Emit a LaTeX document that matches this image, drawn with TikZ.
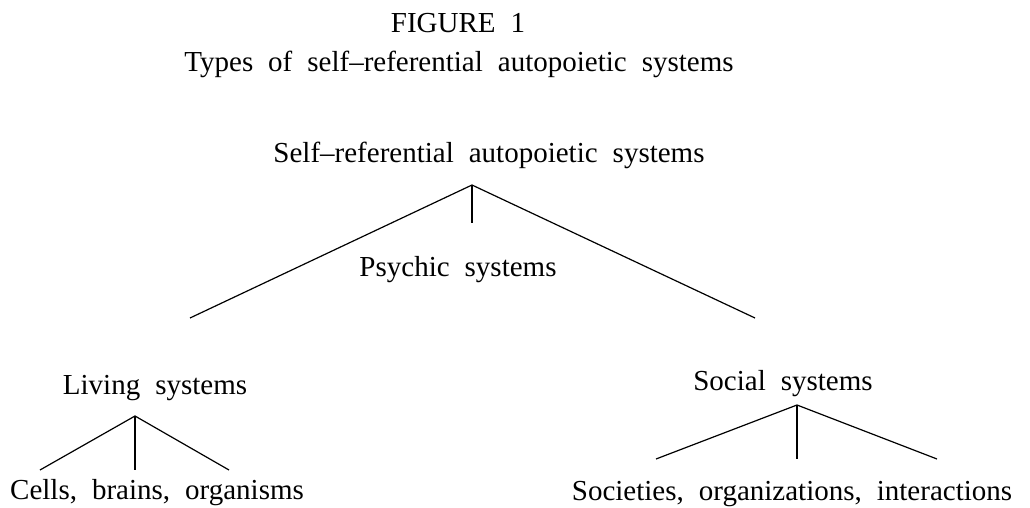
\documentclass[tikz,border=0pt]{standalone}
\usepackage{fontspec}
\setmainfont{Liberation Serif}
\newcommand\lblfont{\fontsize{29}{34}\selectfont\spaceskip=15pt plus 0pt minus 0pt\relax}
\begin{document}
\begin{tikzpicture}[x=1pt,y=-1pt,
  lbl/.style={inner sep=0pt,anchor=base,font=\lblfont},
  edge/.style={line width=1.2pt}]
\useasboundingbox (0,0) rectangle (1030,508);
\node[lbl] (fig) at (458,33) {FIGURE 1};
\node[lbl] (sub) at (459,72) {Types of self–referential autopoietic systems};
\node[lbl] (root) at (489,162) {Self–referential autopoietic systems};
\node[lbl] (psy) at (458,276) {Psychic systems};
\node[lbl] (liv) at (155,394) {Living systems};
\node[lbl] (cells) at (157,499) {Cells, brains, organisms};
\node[lbl] (soc) at (783,390) {Social systems};
\node[lbl] (socs) at (792,500) {Societies, organizations, interactions};
\coordinate (ra) at (472,185);
\coordinate (rl) at (190,318);
\coordinate (rr) at (755,318);
\coordinate (rv) at (472,223);
\coordinate (la) at (135,416);
\coordinate (ll) at (40,470);
\coordinate (lr) at (229,470);
\coordinate (lv) at (135,470);
\coordinate (sa) at (797,405);
\coordinate (sl) at (656,459);
\coordinate (sr) at (937,459);
\coordinate (sv) at (797,459);
\draw[edge] (rl) -- (ra) -- (rr);
\draw[edge] (ra) -- (rv);
\draw[edge] (ll) -- (la) -- (lr);
\draw[edge] (la) -- (lv);
\draw[edge] (sl) -- (sa) -- (sr);
\draw[edge] (sa) -- (sv);
\end{tikzpicture}
\end{document}
